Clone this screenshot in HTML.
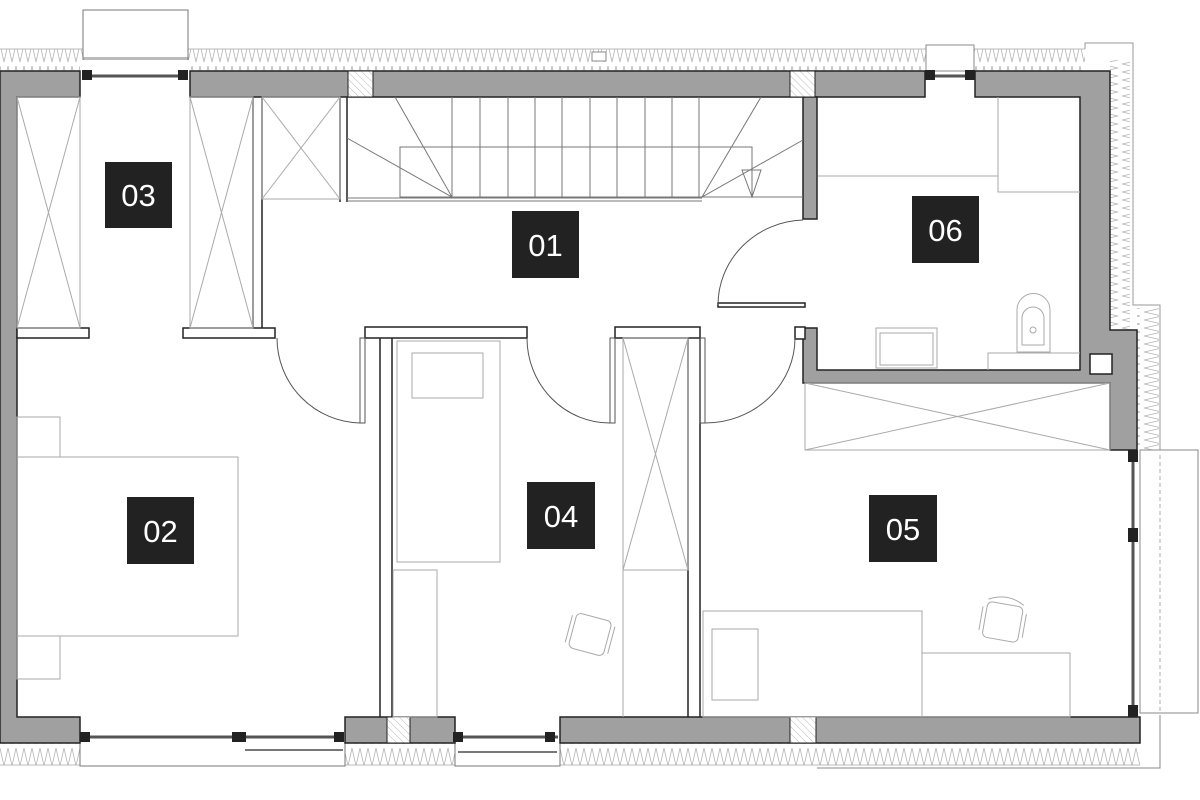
<!DOCTYPE html>
<html><head><meta charset="utf-8"><style>
html,body{margin:0;padding:0;background:#fff;width:1200px;height:800px;overflow:hidden}
svg{display:block}
.lbl{font-family:"Liberation Sans",sans-serif;font-size:31px;fill:#fff}
</style></head><body>
<svg width="1200" height="800" viewBox="0 0 1200 800" xmlns="http://www.w3.org/2000/svg">
<defs>
<pattern id="ins" width="8" height="22" patternUnits="userSpaceOnUse">
<path d="M0 0 L4 18 L8 0 M0 0 Q4 -4 8 0" fill="none" stroke="#b5b5b5" stroke-width="0.8"/>
</pattern>
<pattern id="insv" width="22" height="8" patternUnits="userSpaceOnUse">
<path d="M0 0 L18 4 L0 8" fill="none" stroke="#b5b5b5" stroke-width="0.8"/>
</pattern>
<pattern id="hatch" width="5" height="5" patternUnits="userSpaceOnUse" patternTransform="rotate(-45)">
<line x1="0" y1="0" x2="0" y2="5" stroke="#aaa" stroke-width="0.8"/>
</pattern>
</defs>
<g fill="none" stroke="#999" stroke-width="1">
<rect x="0" y="49" width="1085" height="22" fill="url(#ins)" stroke="none"/>
<line x1="0" y1="49" x2="1085" y2="49" stroke="#bbb"/>
<rect x="0" y="743" width="1140" height="22" fill="url(#ins)" stroke="none"/>
<line x1="0" y1="765" x2="1140" y2="765" stroke="#bbb"/>
<rect x="1110" y="60" width="20" height="270" fill="url(#insv)" stroke="none"/>
<rect x="1137" y="308" width="22" height="142" fill="url(#insv)" stroke="none"/>
<polyline points="1085,49 1085,43 1133,43 1133,305 1160,305 1160,450" stroke="#999"/>
<rect x="83" y="10" width="105" height="50" fill="#fff" stroke="#777"/>
<line x1="83" y1="58" x2="188" y2="58" stroke="#777"/>
<rect x="926" y="45" width="48" height="26" fill="#fff" stroke="#888"/>
<rect x="80" y="60" width="110" height="11" fill="#fff" stroke="none"/>
<rect x="592" y="52" width="14" height="9" fill="#fff" stroke="#888"/>
<rect x="80" y="742" width="265" height="24" fill="#fff" stroke="none"/>
<polyline points="80,742 80,766 345,766 345,742" stroke="#777"/>
<line x1="245" y1="750" x2="343" y2="750" stroke="#777" stroke-width="2"/>
<rect x="455" y="742" width="105" height="24" fill="#fff" stroke="none"/>
<polyline points="455,742 455,766 560,766 560,742" stroke="#777"/>
<line x1="458" y1="752" x2="557" y2="752" stroke="#777" stroke-width="2"/>
<polyline points="817,768 1160,768 1160,715" stroke="#888"/>
<rect x="1140" y="450" width="58" height="263" fill="#fff" stroke="#888"/>
<line x1="1160" y1="455" x2="1160" y2="713" stroke="#aaa" stroke-dasharray="4,3"/>
</g>
<g fill="#a0a0a0" stroke="#222" stroke-width="1.5">
<path d="M0 71 H80 V97 H17 V717 H80 V743 H0 Z"/>
<rect x="190" y="71" width="735" height="26"/>
<path d="M975 71 H1110 V330 H1137 V450 H1110 V383 H803 V328 H817 V370 H1080 V97 H975 Z"/>
<rect x="803" y="97" width="14" height="122"/>
<rect x="345" y="717" width="110" height="26"/>
<rect x="560" y="717" width="580" height="26"/>
</g>
<rect x="1090" y="354" width="22" height="20" fill="#fff" stroke="#222" stroke-width="1.5"/>
<g fill="url(#hatch)" stroke="#222" stroke-width="1">
<rect x="348" y="71" width="25" height="26" fill="#fff"/><rect x="348" y="71" width="25" height="26"/>
<rect x="790" y="71" width="25" height="26" fill="#fff"/><rect x="790" y="71" width="25" height="26"/>
<rect x="387" y="717" width="23" height="26" fill="#fff"/><rect x="387" y="717" width="23" height="26"/>
<rect x="790" y="717" width="26" height="26" fill="#fff"/><rect x="790" y="717" width="26" height="26"/>
</g>
<g stroke="#555" stroke-width="3">
<line x1="85" y1="76" x2="185" y2="76"/>
<line x1="928" y1="76" x2="972" y2="76"/>
<line x1="82" y1="737" x2="343" y2="737"/>
<line x1="457" y1="737" x2="558" y2="737"/>
<line x1="1133" y1="455" x2="1133" y2="712"/>
</g>
<g fill="#222">
<rect x="82" y="70" width="10" height="10"/><rect x="178" y="70" width="10" height="10"/>
<rect x="925" y="70" width="10" height="10"/><rect x="965" y="70" width="10" height="10"/>
<rect x="80" y="732" width="10" height="10"/><rect x="232" y="732" width="14" height="10"/><rect x="334" y="732" width="10" height="10"/>
<rect x="453" y="732" width="10" height="10"/><rect x="545" y="732" width="10" height="10"/>
<rect x="1128" y="450" width="10" height="12"/><rect x="1128" y="528" width="10" height="14"/><rect x="1128" y="705" width="10" height="12"/>
</g>
<g fill="#fff" stroke="#222" stroke-width="1.5">
<rect x="17" y="328" width="72" height="10"/>
<rect x="183" y="328" width="92" height="10"/>
<rect x="365" y="327" width="162" height="11"/>
<rect x="615" y="327" width="85" height="11"/>
<rect x="795" y="327" width="10" height="12"/>
<rect x="718" y="303" width="87" height="4"/>
</g>
<g stroke="#222" stroke-width="1.5" fill="none">
<line x1="253" y1="97" x2="253" y2="328"/><line x1="262" y1="97" x2="262" y2="328"/>
<line x1="340" y1="97" x2="340" y2="202"/><line x1="347" y1="97" x2="347" y2="202"/>
<line x1="380" y1="338" x2="380" y2="717"/><line x1="392" y1="338" x2="392" y2="717"/>
<line x1="688" y1="338" x2="688" y2="717"/><line x1="700" y1="338" x2="700" y2="717"/>
</g>
<g stroke="#555" stroke-width="1" fill="none">
<rect x="360" y="338" width="5" height="85"/>
<rect x="610" y="338" width="5" height="85"/>
<rect x="700" y="338" width="5" height="85"/>
<path d="M277 338 A85 85 0 0 0 360 423"/>
<path d="M527 338 A83 85 0 0 0 610 423"/>
<path d="M705 423 A90 85 0 0 0 795 338"/>
<path d="M718 305 A88 85 0 0 1 803 220"/>
</g>
<g stroke="#aaa" stroke-width="1" fill="none">
<rect x="17" y="97" width="63" height="231"/><path d="M17 97 L80 328 M80 97 L17 328"/>
<rect x="190" y="97" width="63" height="231"/><path d="M190 97 L253 328 M253 97 L190 328"/>
<rect x="262" y="97" width="78" height="102"/><path d="M262 97 L340 199 M340 97 L262 199"/>
<rect x="805" y="383" width="305" height="67"/><path d="M805 383 L1110 450 M1110 383 L805 450"/>
<rect x="623" y="338" width="65" height="232"/><path d="M623 338 L688 570 M688 338 L623 570"/>
<line x1="623" y1="570" x2="623" y2="717"/>
<rect x="17" y="457" width="221" height="179"/>
<rect x="17" y="417" width="43" height="40"/><rect x="17" y="636" width="43" height="43"/>
<rect x="397" y="341" width="103" height="221"/>
<rect x="412" y="353" width="71" height="45"/>
<rect x="393" y="570" width="44" height="147"/>
<rect x="703" y="611" width="219" height="106"/>
<rect x="922" y="653" width="148" height="64"/>
<rect x="712" y="629" width="46" height="71"/>
<path d="M818 176 H998 V97 M998 176 V192 H1080"/>
<rect x="876" y="328" width="61" height="40"/><rect x="880" y="333" width="53" height="32"/>
<path d="M988 370 V353 H1080"/>
<path d="M1017 352 V310 A16 16 0 0 1 1050 310 V352 Z"/>
<path d="M1022 345 V318 A11 11 0 0 1 1044 318 V345 Z"/>
<circle cx="1033" cy="330" r="3"/>
<g transform="translate(592,635) rotate(15)"><rect x="-20" y="-18" width="36" height="36" rx="5"/><path d="M-24 -14 V14 M20 -14 V14"/></g>
<g transform="translate(1003,620) rotate(10)"><rect x="-18" y="-16" width="36" height="36" rx="5"/><path d="M-18 -18 Q0 -28 18 -18 M-22 -10 V14 M22 -10 V14"/></g>
</g>
<g stroke="#777" stroke-width="1" fill="none">
<line x1="347" y1="198" x2="702" y2="198"/><line x1="347" y1="201" x2="702" y2="201"/>
<line x1="702" y1="197" x2="803" y2="197"/>
<rect x="400" y="147" width="352" height="50"/>
<path d="M452 97 V197 M480 97 V197 M508 97 V197 M535 97 V197 M562 97 V197 M590 97 V197 M617 97 V197 M645 97 V197 M672 97 V197 M699 97 V197"/>
<path d="M395 97 L452 197 L347 138 M761 97 L702 197 L803 140"/>
<path d="M742 170 H761 L752 197 Z"/>
</g>
<g fill="#222">
<rect x="105" y="162" width="67" height="66"/>
<rect x="512" y="211" width="67" height="67"/>
<rect x="912" y="196" width="67" height="67"/>
<rect x="127" y="497" width="67" height="67"/>
<rect x="527" y="482" width="68" height="67"/>
<rect x="869" y="495" width="68" height="67"/>
</g>
<g class="lbl" text-anchor="middle">
<text x="138.5" y="206">03</text>
<text x="545.5" y="256">01</text>
<text x="945.5" y="241">06</text>
<text x="160.5" y="542">02</text>
<text x="561" y="527">04</text>
<text x="903" y="540">05</text>
</g>
</svg>
</body></html>
